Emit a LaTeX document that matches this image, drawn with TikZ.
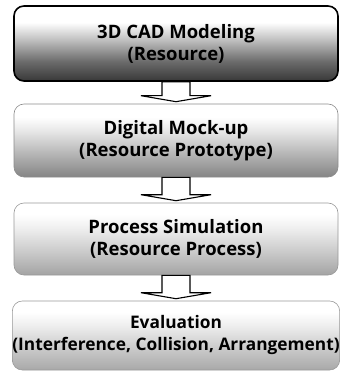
\documentclass[tikz,border=0pt]{standalone}
\usepackage{fontspec}
\setmainfont{Open Sans}
\usetikzlibrary{calc}

% vertical shadings: 25bp is the bottom edge of the box, 75bp the top edge
\pgfdeclareverticalshading{shadeA}{100bp}{%
  color(0bp)=(black!78); color(25bp)=(black!78); color(38bp)=(black!58);
  color(52bp)=(black!26); color(64bp)=(white); color(100bp)=(white)}
\pgfdeclareverticalshading{shadeB}{100bp}{%
  color(0bp)=(black!48); color(25bp)=(black!48); color(40bp)=(black!30);
  color(56bp)=(black!10); color(66bp)=(white); color(100bp)=(white)}
\pgfdeclareverticalshading{shadeC}{100bp}{%
  color(0bp)=(black!36); color(25bp)=(black!36); color(42bp)=(black!20);
  color(58bp)=(black!6); color(67bp)=(white); color(100bp)=(white)}
\pgfdeclareverticalshading{shadeD}{100bp}{%
  color(0bp)=(black!34); color(25bp)=(black!34); color(44bp)=(black!18);
  color(58bp)=(black!6); color(67bp)=(white); color(100bp)=(white)}

\tikzset{
  stagebox/.style={rectangle, rounded corners=10pt, minimum width=324pt,
    inner sep=0pt, align=center, text=black,
    font=\bfseries\fontsize{18.5}{22}\selectfont},
  blockarrow/.style={draw=black, fill=white, line width=1.1pt, line join=miter}
}

\begin{document}
\begin{tikzpicture}[x=1pt,y=-1pt]
  \useasboundingbox (0,0) rectangle (340,374);

  \node[stagebox, minimum height=75pt, shading=shadeA, draw=black, line width=1.6pt]
    (b1) at (176,43.5) {3D CAD Modeling\\(Resource)};
  \node[stagebox, minimum height=73pt, shading=shadeB, draw=black!45, line width=0.6pt]
    (b2) at (176,140.5) {Digital Mock-up\\(Resource Prototype)};
  \node[stagebox, minimum height=72pt, shading=shadeC, draw=black!40, line width=0.6pt]
    (b3) at (176,239) {Process Simulation\\(Resource Process)};
  \node[stagebox, minimum height=69pt, shading=shadeD, draw=black!40, line width=0.6pt,
    font=\bfseries\fontsize{17.3}{22}\selectfont]
    (b4) at (176,335.5) {Evaluation\\(Interference, Collision, Arrangement)};

  % hollow block arrows between consecutive stages
  \foreach \a/\b in {b1/b2, b2/b3, b3/b4}{
    \draw[blockarrow] let \p1=(\a.south), \p2=(\b.north) in
      (\x1-14pt,\y1) -- (\x1-14pt,\y2+8pt) -- (\x1-35pt,\y2+8pt) --
      (\x1,\y2+2pt) -- (\x1+35pt,\y2+8pt) -- (\x1+14pt,\y2+8pt) --
      (\x1+14pt,\y1) -- cycle;
  }
\end{tikzpicture}
\end{document}
